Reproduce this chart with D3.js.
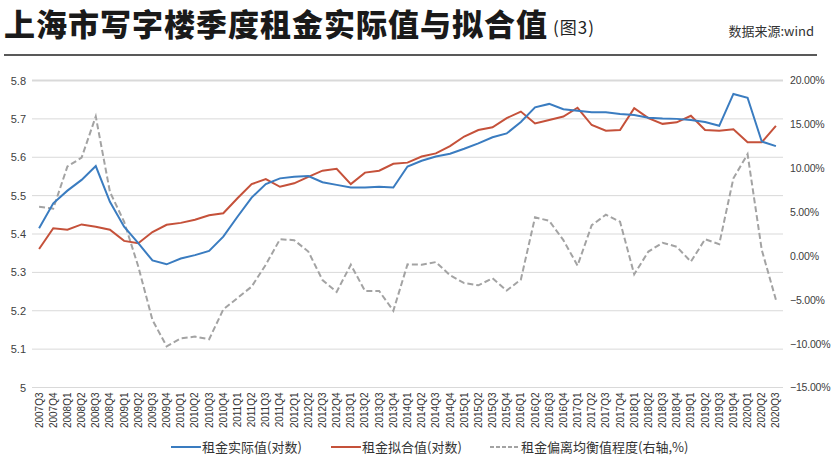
<!DOCTYPE html>
<html><head><meta charset="utf-8">
<script src="https://cdn.jsdelivr.net/npm/d3@7"></script>
<style>
html,body{margin:0;padding:0;background:#fff;}
svg{display:block;}
</style></head>
<body>
<script>
const quarters = ["2007Q3","2007Q4",
"2008Q1","2008Q2","2008Q3","2008Q4",
"2009Q1","2009Q2","2009Q3","2009Q4",
"2010Q1","2010Q2","2010Q3","2010Q4",
"2011Q1","2011Q2","2011Q3","2011Q4",
"2012Q1","2012Q2","2012Q3","2012Q4",
"2013Q1","2013Q2","2013Q3","2013Q4",
"2014Q1","2014Q2","2014Q3","2014Q4",
"2015Q1","2015Q2","2015Q3","2015Q4",
"2016Q1","2016Q2","2016Q3","2016Q4",
"2017Q1","2017Q2","2017Q3","2017Q4",
"2018Q1","2018Q2","2018Q3","2018Q4",
"2019Q1","2019Q2","2019Q3","2019Q4",
"2020Q1","2020Q2","2020Q3"];

const actual = [5.415,5.480,5.513,5.541,5.577,5.484,5.419,5.376,5.331,5.321,
5.336,5.345,5.356,5.393,5.445,5.495,5.530,5.545,5.549,5.551,
5.535,5.528,5.521,5.521,5.523,5.521,5.576,5.591,5.602,5.609,
5.622,5.636,5.652,5.662,5.692,5.730,5.739,5.725,5.721,5.717,
5.717,5.713,5.710,5.703,5.701,5.700,5.697,5.692,5.682,5.765,
5.755,5.641,5.629];

const fitted = [5.361,5.415,5.411,5.425,5.419,5.411,5.382,5.376,5.405,5.424,
5.429,5.437,5.449,5.454,5.493,5.530,5.543,5.523,5.532,5.549,
5.565,5.570,5.530,5.560,5.565,5.583,5.586,5.602,5.610,5.629,
5.654,5.671,5.678,5.702,5.719,5.688,5.697,5.706,5.729,5.684,
5.669,5.671,5.728,5.702,5.687,5.691,5.708,5.671,5.669,5.673,
5.639,5.639,5.682];

const deviation = [5.6,5.4,10.2,11.2,15.9,7.3,3.9,-1.2,-7.3,-10.3,
-9.4,-9.2,-9.5,-6.1,-4.8,-3.5,-1.0,1.9,1.8,0.5,
-2.75,-4.1,-1.0,-4.0,-4.0,-6.25,-0.96,-1.0,-0.7,-2.2,
-3.1,-3.35,-2.55,-3.95,-2.7,4.4,4.0,1.8,-1.1,3.5,
4.7,3.9,-2.1,0.5,1.5,1.05,-0.65,1.9,1.35,8.85,
11.6,0.7,-5.0];

const leftTicks = [5,5.1,5.2,5.3,5.4,5.5,5.6,5.7,5.8];
const rightTicks = [-15,-10,-5,0,5,10,15,20];

const titleText = "上海市写字楼季度租金实际值与拟合值";
const titleSuffix = "(图3)";
const sourceText = "数据来源:wind";
const legendLabels = ["租金实际值(对数)","租金拟合值(对数)","租金偏离均衡值程度(右轴,%)"];

const W = 832, H = 461;
const plot = {left: 32, right: 783, top: 80.5, bottom: 387.5};
const colors = {actual:"#3a7cc0", fitted:"#c5513a", dev:"#a3a3a3"};

const svg = d3.select("body").append("svg").attr("width", W).attr("height", H);

// Title
svg.append("text").attr("x", 4).attr("y", 36)
  .style("font-family", "'Noto Sans CJK SC'").style("font-weight", 900)
  .style("font-size", "31px").style("letter-spacing", "1px").attr("fill", "#1a1a1a")
  .text(titleText);
svg.append("text").attr("x", 553).attr("y", 34)
  .style("font-family", "'Noto Sans CJK SC'").style("font-size", "17px").attr("fill", "#222")
  .style("letter-spacing", "1px")
  .text(titleSuffix);
svg.append("text").attr("x", 814).attr("y", 36).attr("text-anchor", "end")
  .style("font-family", "'Noto Sans CJK SC'").style("font-size", "13px").attr("fill", "#333")
  .text(sourceText);
svg.append("line").attr("x1", 4).attr("x2", 817).attr("y1", 55).attr("y2", 55)
  .attr("stroke", "#222").attr("stroke-width", 1.5);

// Scales
const x = d3.scaleBand().domain(quarters).range([plot.left, plot.right]);
const xc = d => x(d) + x.bandwidth() / 2;
const yL = d3.scaleLinear().domain([5, 5.8]).range([plot.bottom, plot.top]);
const yR = d3.scaleLinear().domain([-15, 20]).range([plot.bottom, plot.top]);

// Gridlines
svg.append("g").selectAll("line").data(leftTicks).join("line")
  .attr("x1", plot.left).attr("x2", plot.right)
  .attr("y1", d => yL(d)).attr("y2", d => yL(d))
  .attr("stroke", "#d9d9d9").attr("stroke-width", d => d === 5.8 ? 2 : 1);

// Left axis
const axL = svg.append("g").attr("transform", `translate(${plot.left - 4},0)`)
  .call(d3.axisLeft(yL).tickValues(leftTicks).tickSize(0).tickPadding(2)
        .tickFormat(d => d === 5 ? "5" : d3.format(".1f")(d)));
axL.select(".domain").remove();
axL.selectAll("text").style("font-family", "'Liberation Sans', Arial").style("font-size", "11px").attr("fill", "#404040");

// Right axis
const axR = svg.append("g").attr("transform", `translate(${plot.right + 7},0)`)
  .call(d3.axisRight(yR).tickValues(rightTicks).tickSize(0).tickPadding(0)
        .tickFormat(d => d3.format(".2f")(d) + "%"));
axR.select(".domain").remove();
axR.selectAll("text").style("font-family", "'Liberation Sans', Arial").style("font-size", "10.5px")
  .style("letter-spacing", "-0.2px").attr("fill", "#404040");

// Bottom axis
const axB = svg.append("g").attr("transform", `translate(0,${plot.bottom})`)
  .call(d3.axisBottom(x).tickSize(0).tickPadding(0));
axB.select(".domain").remove();
axB.selectAll("text")
  .style("font-family", "'Liberation Sans', Arial").style("font-size", "10px").attr("fill", "#333")
  .attr("text-anchor", "end").attr("dy", "0.35em")
  .attr("transform", "translate(0,5) rotate(-90)")
  .attr("x", 0).attr("y", 0);

// Lines
const lineL = arr => d3.line().x((d, i) => xc(quarters[i])).y(d => yL(d))(arr);
const lineR = arr => d3.line().x((d, i) => xc(quarters[i])).y(d => yR(d))(arr);

svg.append("path").attr("d", lineR(deviation)).attr("fill", "none")
  .attr("stroke", colors.dev).attr("stroke-width", 2).attr("stroke-dasharray", "6,3");
svg.append("path").attr("d", lineL(fitted)).attr("fill", "none")
  .attr("stroke", colors.fitted).attr("stroke-width", 2);
svg.append("path").attr("d", lineL(actual)).attr("fill", "none")
  .attr("stroke", colors.actual).attr("stroke-width", 2);

// Legend
const legendItems = [
  {label: legendLabels[0], color: colors.actual, dash: null, x: 171},
  {label: legendLabels[1], color: colors.fitted, dash: null, x: 331},
  {label: legendLabels[2], color: colors.dev, dash: "4,2", x: 490}
];
const lg = svg.append("g");
legendItems.forEach(it => {
  lg.append("line").attr("x1", it.x).attr("x2", it.x + 30).attr("y1", 447).attr("y2", 447)
    .attr("stroke", it.color).attr("stroke-width", 2).attr("stroke-dasharray", it.dash);
  lg.append("text").attr("x", it.x + 31).attr("y", 452)
    .style("font-family", "'Noto Sans CJK SC'").style("font-size", "13px").attr("fill", "#333")
    .text(it.label);
});
</script>
</body></html>
